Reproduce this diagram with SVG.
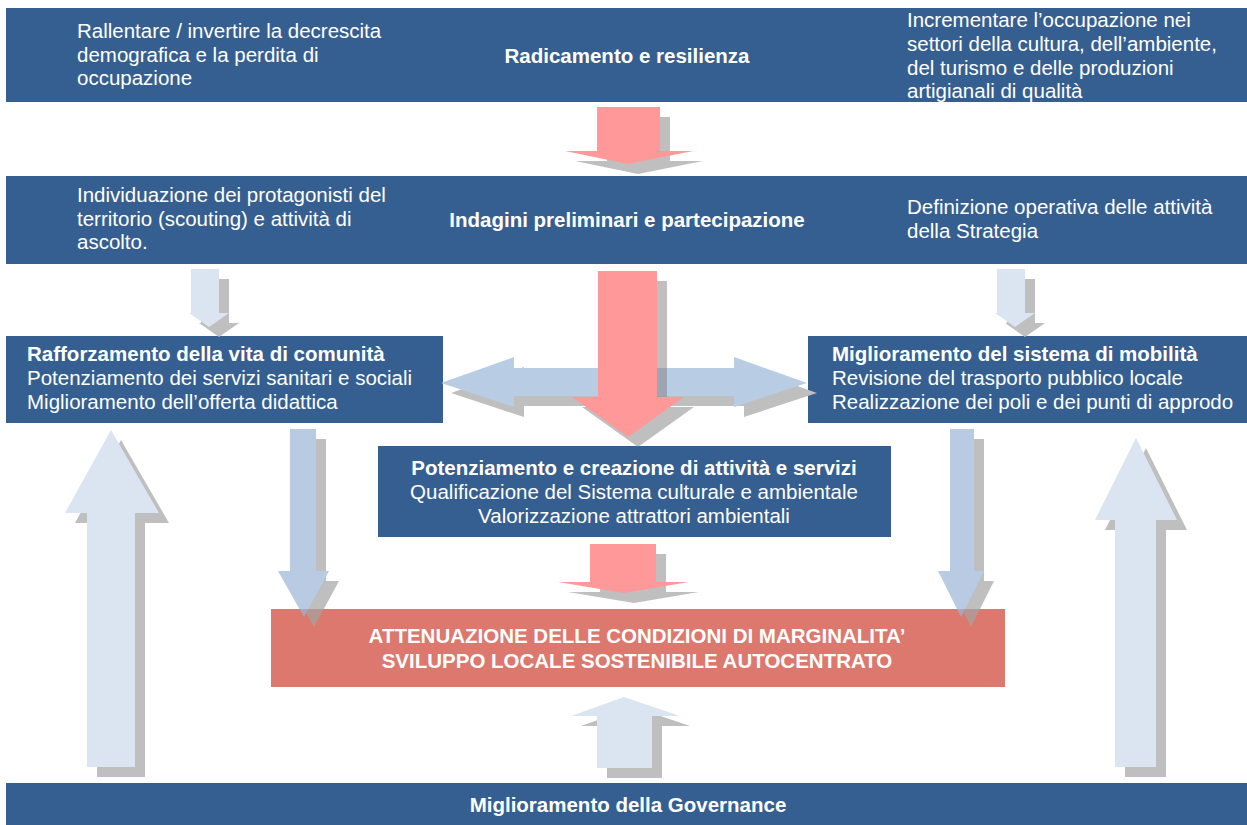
<svg xmlns="http://www.w3.org/2000/svg" xmlns:xlink="http://www.w3.org/1999/xlink" width="1247" height="825" viewBox="0 0 1247 825">
<style>
  .box { fill: #365f91; }
  .red { fill: #dc786d; }
  .t { font-family: "Liberation Sans", Arial, sans-serif; font-size: 20.5px; fill: #ffffff; }
  .b { font-weight: bold; }
  .c { text-anchor: middle; }
  .sh { fill: #bfbfbf; }
  .pink { fill: #ff9999; }
  .lb { fill: #dbe5f1; }
  .mb { fill: #b8cce4; }
</style>
<defs>
  <polygon id="a_top" points="597,107 660,107 660,151 693,151 628,164 565,151 597,151"/>
  <polygon id="a_mid" points="598,271 657,271 657,397 684,397 628,437 572,397 598,397"/>
  <polygon id="a_low" points="590,544 656,544 656,582 689,582 624,593 558,582 590,582"/>
  <polygon id="a_h" points="441,383 514,357 514,368 734,368 734,357 807,383 734,407 734,396 514,396 514,407"/>
  <polygon id="a_sl" points="191,269 219,269 219,313 229,313 209,327 189,313 191,313"/>
  <polygon id="a_sr" points="997,269 1025,269 1025,313 1035,313 1015,327 995,313 997,313"/>
  <polygon id="a_ul" points="111,430 159,513 135,513 135,767 87,767 87,513 65,513"/>
  <polygon id="a_ur" points="1136,438 1177,520 1156,520 1156,767 1115,767 1115,520 1095,520"/>
  <polygon id="a_uc" points="624,697 680,716 652,716 652,768 597,768 597,716 571,716"/>
  <polygon id="a_dl" points="290,429 316,429 316,571 329,571 304,617 278,571 290,571"/>
  <polygon id="a_dr" points="950,429 974,429 974,571 984,571 961,617 938,571 950,571"/>
  <clipPath id="clipH"><rect x="0" y="0" width="808" height="825"/></clipPath>
</defs>
<rect width="1247" height="825" fill="#ffffff"/>

<g id="node-rallentare">
  <rect class="box" x="6" y="8" width="412" height="94"/>
  <text class="t" x="77" y="38">Rallentare / invertire la decrescita</text>
  <text class="t" x="77" y="62">demografica e la perdita di</text>
  <text class="t" x="77" y="85">occupazione</text>
</g>
<g id="node-radicamento">
  <rect class="box" x="418" y="8" width="417" height="94"/>
  <text class="t b c" x="627" y="63">Radicamento e resilienza</text>
</g>
<g id="node-incrementare">
  <rect class="box" x="834" y="8" width="413" height="94"/>
  <text class="t" x="907" y="27">Incrementare l’occupazione nei</text>
  <text class="t" x="907" y="51">settori della cultura, dell’ambiente,</text>
  <text class="t" x="907" y="75">del turismo e delle produzioni</text>
  <text class="t" x="907" y="98">artigianali di qualità</text>
</g>

<g id="node-individuazione">
  <rect class="box" x="6" y="176" width="412" height="88"/>
  <text class="t" x="77" y="202">Individuazione dei protagonisti del</text>
  <text class="t" x="77" y="226">territorio (scouting) e attività di</text>
  <text class="t" x="77" y="249">ascolto.</text>
</g>
<g id="node-indagini">
  <rect class="box" x="418" y="176" width="417" height="88"/>
  <text class="t b c" x="627" y="227">Indagini preliminari e partecipazione</text>
</g>
<g id="node-definizione">
  <rect class="box" x="834" y="176" width="413" height="88"/>
  <text class="t" x="907" y="214">Definizione operativa delle attività</text>
  <text class="t" x="907" y="238">della Strategia</text>
</g>

<g id="node-comunita">
  <rect class="box" x="6" y="336" width="437" height="87"/>
  <text class="t b" x="27" y="361">Rafforzamento della vita di comunità</text>
  <text class="t" x="27" y="385">Potenziamento dei servizi sanitari e sociali</text>
  <text class="t" x="27" y="409">Miglioramento dell’offerta didattica</text>
</g>
<g id="node-mobilita">
  <rect class="box" x="808" y="336" width="439" height="87"/>
  <text class="t b" x="832" y="361">Miglioramento del sistema di mobilità</text>
  <text class="t" x="832" y="385">Revisione del trasporto pubblico locale</text>
  <text class="t" x="832" y="409">Realizzazione dei poli e dei punti di approdo</text>
</g>

<g id="node-potenziamento">
  <rect class="box" x="378" y="446" width="513" height="91"/>
  <text class="t b c" x="634" y="475">Potenziamento e creazione di attività e servizi</text>
  <text class="t c" x="634" y="499">Qualificazione del Sistema culturale e ambientale</text>
  <text class="t c" x="634" y="523">Valorizzazione attrattori ambientali</text>
</g>

<g id="node-attenuazione">
  <rect class="red" x="271" y="609" width="734" height="78"/>
  <text class="t b c" x="637" y="643">ATTENUAZIONE DELLE CONDIZIONI DI MARGINALITA’</text>
  <text class="t b c" x="637" y="668">SVILUPPO LOCALE SOSTENIBILE AUTOCENTRATO</text>
</g>

<g id="node-governance">
  <rect class="box" x="6" y="783" width="1241" height="42"/>
  <text class="t b c" x="628" y="812">Miglioramento della Governance</text>
</g>

<g id="connectors">
  <g id="arrow-top">
    <use xlink:href="#a_top" class="sh" transform="translate(10,10)"/>
    <use xlink:href="#a_top" class="pink"/>
  </g>
  <g id="arrow-small-left">
    <use xlink:href="#a_sl" class="sh" transform="translate(10,10)"/>
    <use xlink:href="#a_sl" class="lb"/>
  </g>
  <g id="arrow-small-right">
    <use xlink:href="#a_sr" class="sh" transform="translate(10,10)"/>
    <use xlink:href="#a_sr" class="lb"/>
  </g>
  <g id="arrow-horizontal">
    <use xlink:href="#a_h" class="sh" transform="translate(10,10)" clip-path="url(#clipH)"/>
    <use xlink:href="#a_h" class="mb"/>
  </g>
  <g id="arrow-center">
    <use xlink:href="#a_mid" transform="translate(10,10)" fill="#808080" fill-opacity="0.5"/>
    <use xlink:href="#a_mid" class="pink"/>
  </g>
  <g id="arrow-lower">
    <use xlink:href="#a_low" class="sh" transform="translate(10,10)"/>
    <use xlink:href="#a_low" class="pink"/>
  </g>
  <g id="arrow-down-left" opacity="0.7">
    <use xlink:href="#a_dl" fill="#a4a4a4" transform="translate(10,10)"/>
    <use xlink:href="#a_dl" fill="#9bb6d8"/>
  </g>
  <g id="arrow-down-right" opacity="0.7">
    <use xlink:href="#a_dr" fill="#a4a4a4" transform="translate(10,10)"/>
    <use xlink:href="#a_dr" fill="#9bb6d8"/>
  </g>
  <g id="arrow-up-left">
    <use xlink:href="#a_ul" class="sh" transform="translate(10,10)"/>
    <use xlink:href="#a_ul" class="lb"/>
  </g>
  <g id="arrow-up-right">
    <use xlink:href="#a_ur" class="sh" transform="translate(10,10)"/>
    <use xlink:href="#a_ur" class="lb"/>
  </g>
  <g id="arrow-up-center">
    <use xlink:href="#a_uc" class="sh" transform="translate(10,10)"/>
    <use xlink:href="#a_uc" class="lb"/>
  </g>
</g>
</svg>
